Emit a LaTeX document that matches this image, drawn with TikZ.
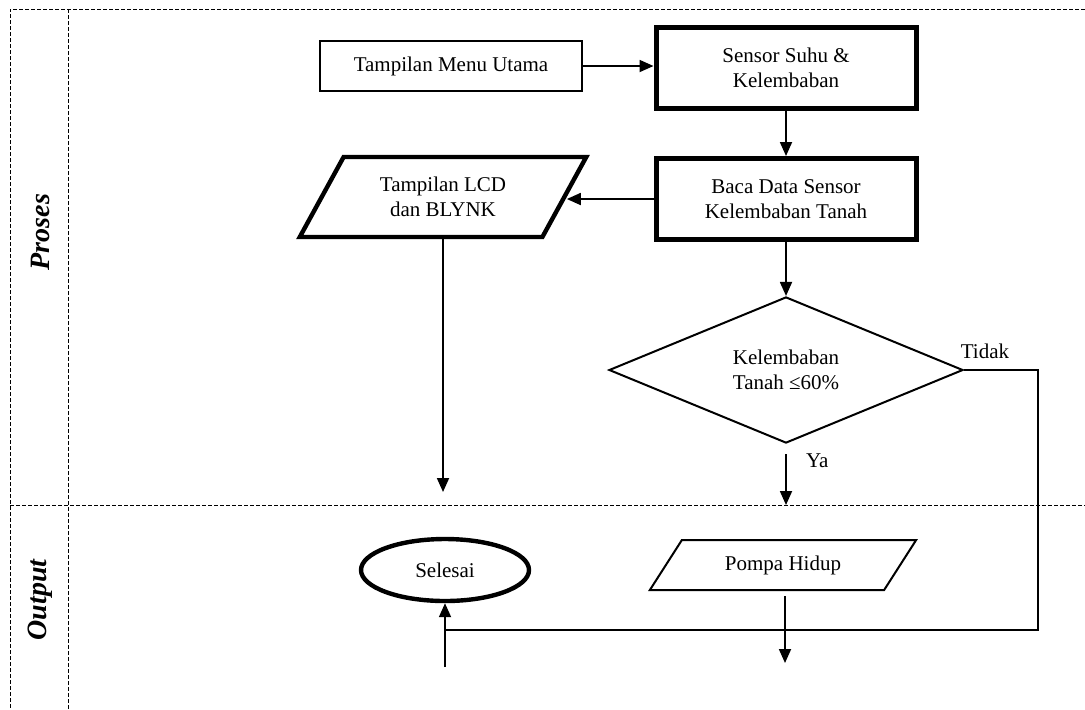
\documentclass[tikz,border=0pt]{standalone}
\usepackage{fontspec}
\setmainfont{Liberation Serif}
\usetikzlibrary{shapes.geometric,arrows.meta}

\tikzstyle{label} = [font=\fontsize{10.5}{12.5}\selectfont,align=center]
\tikzstyle{box} = [style=label,draw=black,rectangle,line width=1pt,inner sep=0pt]
\tikzstyle{process} = [style=label,draw=black,rectangle,line width=2.5pt,inner sep=0pt,minimum width=130pt,minimum height=40.5pt]
\tikzstyle{data} = [style=label,draw=black,trapezium,trapezium stretches=true,inner sep=0pt]
\tikzstyle{decision} = [style=label,draw=black,diamond,line width=1pt,inner sep=0pt,minimum width=177pt,minimum height=70pt]
\tikzstyle{terminal} = [style=label,draw=black,ellipse,line width=2.2pt,inner sep=0pt,minimum width=84pt,minimum height=31pt]
\tikzstyle{lane} = [draw=black,line width=0.5pt,dash pattern=on 2pt off 1pt]
\tikzstyle{lanename} = [font=\fontsize{14}{16}\selectfont\bfseries\itshape,rotate=90]
\tikzstyle{edge} = [draw=black,line width=0.9pt]
\tikzstyle{arrow} = [style=edge,-{Triangle[length=7pt,width=6pt]}]

\begin{document}
\begin{tikzpicture}[x=0.5pt,y=-0.5pt]
    \useasboundingbox (0,0) rectangle (1085,709);

    % lanes
    \draw [style=lane] (1085,9) -- (10,9) -- (10,709);
    \draw [style=lane] (68,9) -- (68,709);
    \draw [style=lane] (10,505) -- (1085,505);
    \node [style=lanename] (proses) at (40,232) {Proses};
    \node [style=lanename] (output) at (40,600) {Output};

    \coordinate (M) at (451,66);
    \coordinate (S) at (786,68);
    \coordinate (B) at (786,199);
    \coordinate (L) at (443,197);
    \coordinate (K) at (786,370);
    \coordinate (E) at (445,570);
    \coordinate (P) at (783,565);

    \node [style=box,minimum width=131pt,minimum height=25pt] (menu) at (M) {Tampilan Menu Utama};
    \node [style=process] (sensor) at (S) {Sensor Suhu \&\\Kelembaban};
    \node [style=process] (baca) at (B) {Baca Data Sensor\\Kelembaban Tanah};
    \node [style=data,line width=2.2pt,trapezium left angle=55,trapezium right angle=125,
           minimum width=144.5pt,minimum height=40pt] (lcd) at (L) {Tampilan LCD\\dan BLYNK};
    \node [style=decision] (cek) at (K) {Kelembaban\\Tanah ≤60\%};
    \node [style=terminal] (selesai) at (E) {Selesai};
    \node [style=data,line width=1pt,trapezium left angle=46,trapezium right angle=134,
           minimum width=134pt,minimum height=25pt] (pompa) at (P) {Pompa Hidup};

    \coordinate (lcdEnd) at (442,492);
    \coordinate (yaEnd) at (786,505);
    \coordinate (tidakR) at (1038,630);
    \coordinate (selBot) at (445,667);
    \coordinate (pompaEnd) at (785,663);

    \draw [style=arrow] (menu.east) -- (menu.east -| sensor.west);
    \draw [style=arrow] (sensor) -- (baca);
    \draw [style=arrow] (baca.west) -- (baca.west -| lcd.east);
    \draw [style=arrow] (baca) -- (cek);
    \draw [style=arrow] (lcd.south) -- (lcd.south |- lcdEnd);
    \draw [style=arrow,shorten <=5pt] (cek.south) -- (yaEnd);
    \draw [style=edge] (cek.east) -| (tidakR) -- (tidakR -| selesai.south);
    \draw [style=arrow] (selBot) -- (selesai.south);
    \draw [style=arrow,shorten <=2.5pt] (pompa.south -| pompaEnd) -- (pompaEnd);

    \node [style=label,anchor=west] (ya) at (799,461) {Ya};
    \node [style=label] (tidak) at (985,351) {Tidak};
\end{tikzpicture}
\end{document}
